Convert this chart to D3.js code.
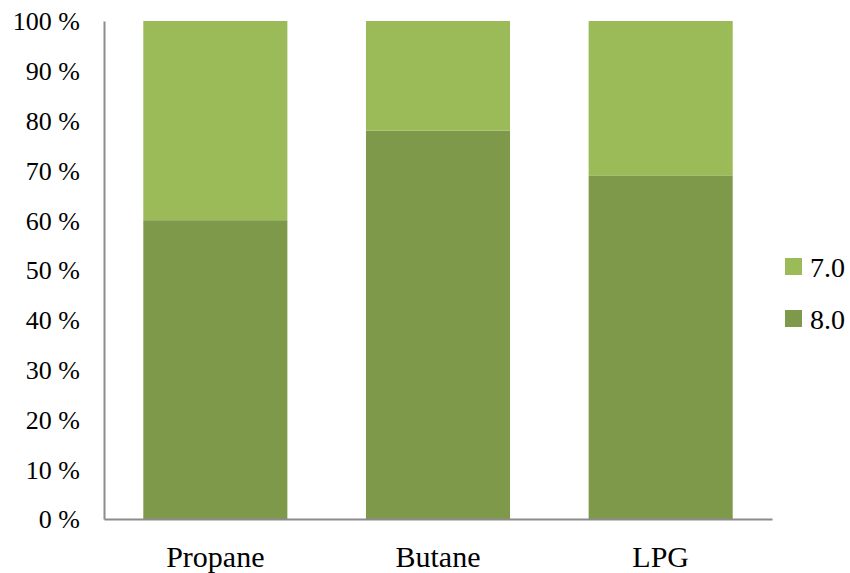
<!DOCTYPE html>
<html><head><meta charset="utf-8">
<script src="https://cdn.jsdelivr.net/npm/d3@7"></script>
<style>body{margin:0;background:#fff}</style>
</head><body><svg id="c" width="850" height="573"></svg>
<script>
const categories = ["Propane", "Butane", "LPG"];
const seriesNames = ["8.0", "7.0"];
const values80 = [60, 78, 69];
const values70 = [40, 22, 31];
const yTicks = [0,10,20,30,40,50,60,70,80,90,100];
const colors = {"8.0": "#7F994A", "7.0": "#9BBB59"};

const svg = d3.select("#c");
const m = {left:104, right:772, top:21, bottom:519};
const x = d3.scaleBand().domain(categories).range([m.left, m.right]).paddingInner(0.353).paddingOuter(0.1765);
const y = d3.scaleLinear().domain([0,100]).range([m.bottom, m.top]);

const data = categories.map((c,i)=>({cat:c, "8.0":values80[i], "7.0":values70[i]}));
const stack = d3.stack().keys(seriesNames)(data);

svg.append("g").selectAll("g").data(stack).join("g")
  .attr("fill", d=>colors[d.key])
  .selectAll("rect").data(d=>d).join("rect")
  .attr("x", d=>x(d.data.cat))
  .attr("width", x.bandwidth())
  .attr("y", d=>y(d[1]))
  .attr("height", d=>y(d[0])-y(d[1]));

const font = "'Liberation Serif','Times New Roman',serif";
// y axis
const ya = svg.append("g").attr("transform",`translate(${m.left},0)`)
  .call(d3.axisLeft(y).tickValues(yTicks).tickSize(0).tickPadding(24).tickFormat(d=>d+" %"));
ya.select(".domain").attr("stroke","#8c8c8c").attr("stroke-width",2);
ya.selectAll("text").attr("font-family",font).attr("font-size",26).attr("fill","#000").attr("dy","0.34em");

// x axis
const xa = svg.append("g").attr("transform",`translate(0,${m.bottom})`)
  .call(d3.axisBottom(x).tickSize(0).tickPadding(0));
xa.select(".domain").attr("stroke","#8c8c8c").attr("stroke-width",2);
xa.selectAll("text").attr("font-family",font).attr("font-size",30).attr("fill","#000").attr("dy",null).attr("y",48);

// legend
const legend = ["7.0","8.0"];
const lg = svg.append("g").selectAll("g").data(legend).join("g")
  .attr("transform",(d,i)=>`translate(785,${258+i*52})`);
lg.append("rect").attr("width",17).attr("height",17).attr("fill",d=>colors[d]);
lg.append("text").attr("x",25).attr("y",19).text(d=>d)
  .attr("font-family",font).attr("font-size",28).attr("fill","#000");
</script></body></html>
